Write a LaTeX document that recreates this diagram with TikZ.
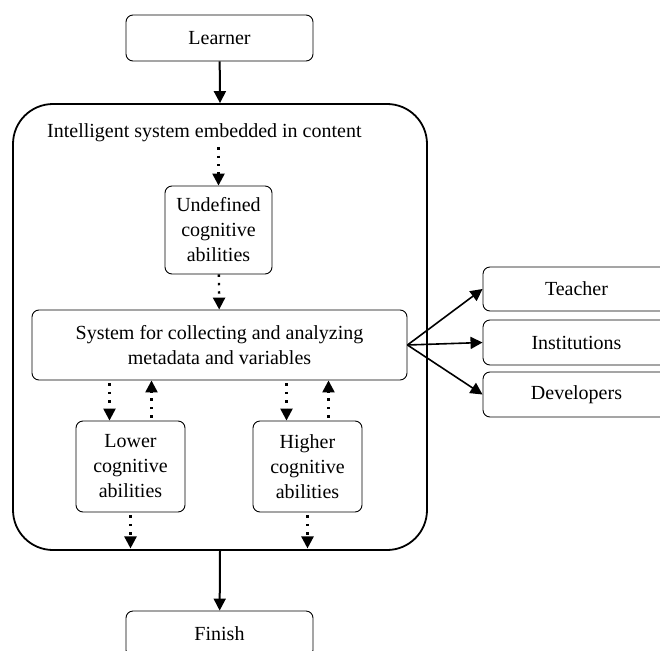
\documentclass[tikz,border=0pt]{standalone}
\usepackage{fontspec}
\setmainfont{Liberation Serif}
\usetikzlibrary{positioning,arrows.meta}

\begin{document}
\begin{tikzpicture}[x=1pt, y=-1pt,
        box/.style={draw, rounded corners=7pt, line width=0.9pt, align=center, inner sep=0pt, font=\fontsize{20}{25}\selectfont},
        arr/.style={-{Triangle[length=12pt, width=12pt]}, line width=2pt},
        dots/.style={-{Triangle[length=12pt, width=12pt]}, line width=2.4pt, dash pattern=on 2.4pt off 6pt},
    ]
        \useasboundingbox (0,0) rectangle (660,650);
        % outer frame
        \node[draw, rounded corners=40pt, line width=1.8pt, minimum width=414pt, minimum height=446pt] (frame) at (220,327) {};
        \node[anchor=west, inner sep=0pt, font=\fontsize{20}{25}\selectfont] (title) at (47,133) {Intelligent system embedded in content};

        \node[box, minimum width=187pt, minimum height=46pt] (learner) at (219.5,38)  {Learner};
        \node[box, minimum width=107pt, minimum height=88pt] (undef)   at (218.5,230) {Undefined\\cognitive\\abilities};
        \node[box, minimum width=375pt, minimum height=70pt] (collect) at (219.5,345) {System for collecting and analyzing\\metadata and variables};
        \node[box, minimum width=109pt, minimum height=91pt] (lower)   at (130.5,466.5) {Lower\\cognitive\\abilities};
        \node[box, minimum width=109pt, minimum height=91pt] (higher)  at (307.5,466.5) {Higher\\cognitive\\abilities};
        \node[box, minimum width=187pt, minimum height=46pt] (finish)  at (219.5,634) {Finish};

        \node[box, minimum width=187pt, minimum height=44pt] (teacher) at (576.5,289)   {Teacher};
        \node[box, minimum width=187pt, minimum height=45pt] (inst)    at (576.5,342.5) {Institutions};
        \node[box, minimum width=187pt, minimum height=45pt] (devel)   at (576.5,394.5) {Developers};

        \draw[arr] (learner) -- (frame.north);
        \draw[arr] (frame.south) -- (finish);
        \draw[dots] (title.south -| undef.north) ++(0,5) -- (undef.north);
        \draw[dots] (undef) -- (collect);

        \foreach \n in {lower,higher} {
            \path (\n.north) ++(-21,0) coordinate (\n-d) ++(42,0) coordinate (\n-u);
            \draw[dots] (\n-d |- collect.south) ++(0,3) -- (\n-d);
            \draw[dots] (\n-u) ++(0,-3) -- (\n-u |- collect.south);
            \draw[dots] (\n.south) ++(0,3) -- ++(0,33) coordinate (\n-out);
        }

        \foreach \t in {teacher,inst,devel}
            \draw[arr, line width=1.6pt] (collect.east) -- (\t.west);
    \end{tikzpicture}
\end{document}
